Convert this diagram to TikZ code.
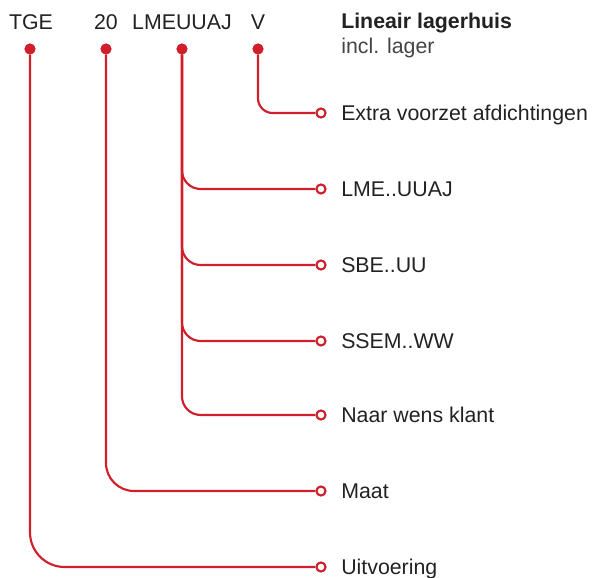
\documentclass[tikz,border=0pt]{standalone}
\usepackage{fontspec}
\setmainfont{Liberation Sans}
\definecolor{TKRed}{HTML}{D01F2A}
\definecolor{TKText}{HTML}{222222}
\definecolor{TKGrey}{HTML}{444444}

\begin{document}
\begin{tikzpicture}[x=0.75pt,y=-0.75pt,
  code/.style={anchor=base,inner sep=0pt,text=TKText,font=\fontsize{16}{19}\selectfont},
  lbl/.style={anchor=base west,inner sep=0pt,text=TKText,font=\fontsize{16}{19}\selectfont},
  dot/.style={circle,fill=TKRed,inner sep=0pt,minimum size=8.2pt},
  ring/.style={circle,draw=TKRed,fill=white,line width=1.6pt,inner sep=0pt,minimum size=6.8pt},
  wire/.style={TKRed,line width=1.6pt}]
\path[use as bounding box] (0,0) rectangle (597,578);
% type code
\node[code] (tTGE) at (31,29) {TGE};
\node[code] (tMaat) at (106,29) {20};
\node[code] (tLME) at (182,29) {LMEUUAJ};
\node[code] (tV) at (258,29) {V};
\node[lbl,font=\fontsize{16}{19}\selectfont\bfseries] (head) at (341,28) {Lineair lagerhuis};
\node[lbl,text=TKGrey] (sub) at (341,53) {incl. lager};
% dots
\node[dot] (dTGE) at (30,49) {};
\node[dot] (dMaat) at (106,49) {};
\node[dot] (dLME) at (182,49) {};
\node[dot] (dV) at (258,49) {};
% rings
\node[ring] (rV) at (321,113) {};
\node[ring] (rLME) at (321,189) {};
\node[ring] (rSBE) at (321,265) {};
\node[ring] (rSSEM) at (321,341) {};
\node[ring] (rWens) at (321,415) {};
\node[ring] (rMaat) at (321,491) {};
\node[ring] (rUit) at (321,567) {};
% connectors
\draw[wire,rounded corners=11pt] (dV) |- (rV);
\draw[wire,rounded corners=14pt] (dLME) |- (rLME);
\draw[wire,rounded corners=14pt] (dLME) |- (rSBE);
\draw[wire,rounded corners=14pt] (dLME) |- (rSSEM);
\draw[wire,rounded corners=14pt] (dLME) |- (rWens);
\draw[wire,rounded corners=21pt] (dMaat) |- (rMaat);
\draw[wire,rounded corners=26pt] (dTGE) |- (rUit);
\node[dot] at (dV) {};
\node[dot] at (dLME) {};
\node[dot] at (dMaat) {};
\node[dot] at (dTGE) {};
% labels
\node[lbl] (lV) at (341,120.5) {Extra voorzet afdichtingen};
\node[lbl] (lLME) at (341,196.5) {LME..UUAJ};
\node[lbl] (lSBE) at (341,272.5) {SBE..UU};
\node[lbl] (lSSEM) at (341,348.5) {SSEM..WW};
\node[lbl] (lWens) at (341,422.5) {Naar wens klant};
\node[lbl] (lMaat) at (341,498.5) {Maat};
\node[lbl] (lUit) at (341,574.5) {Uitvoering};
\end{tikzpicture}
\end{document}
